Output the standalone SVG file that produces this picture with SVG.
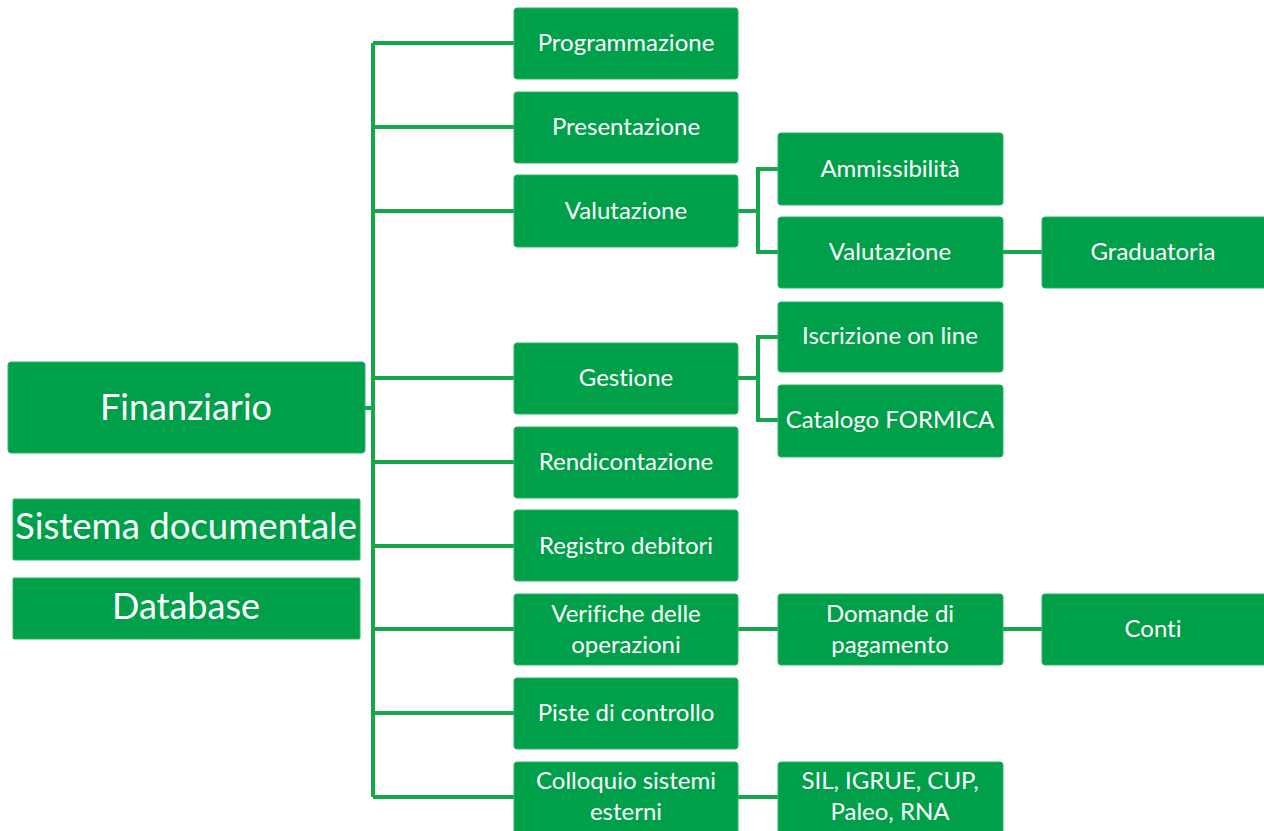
<svg xmlns="http://www.w3.org/2000/svg" width="1264" height="831" viewBox="0 0 1264 831">
  <style>
    .box { fill: #00A04A; stroke: #2DB564; stroke-width: 1; }
    .t { fill: #ffffff; font-family: Lato, "Liberation Sans", sans-serif; font-size: 24px; text-anchor: middle; font-variant-ligatures: none; }
    .big { font-size: 36px; }
    .conn { fill: none; stroke: #14A84A; stroke-width: 4; stroke-linejoin: miter; }
  </style>
  <rect width="1264" height="831" fill="#ffffff"/>

  <!-- connectors -->
  <g id="connectors" class="conn">
    <!-- root to trunk -->
    <path d="M365 408 H373"/>
    <path d="M373 43 V797"/>
    <path d="M373 43 H514 M373 127 H514 M373 211 H514 M373 378 H514 M373 462 H514 M373 546 H514 M373 629 H514 M373 713 H514 M373 797 H514"/>
    <!-- Valutazione branch -->
    <path d="M738 211 H758 M778 169 H758 V252 H778"/>
    <path d="M1003 252 H1042"/>
    <!-- Gestione branch -->
    <path d="M738 378 H758 M778 337 H758 V420 H778"/>
    <!-- Verifiche chain -->
    <path d="M738 629 H778 M1003 629 H1042"/>
    <!-- Colloquio chain -->
    <path d="M738 797 H778"/>
  </g>

  <!-- left column -->
  <g id="n-finanziario">
    <rect class="box" x="8" y="362" width="357" height="91" rx="3"/>
    <text class="t big" x="186" y="420">Finanziario</text>
  </g>
  <g id="n-sistema-documentale">
    <rect class="box" x="13" y="499" width="347" height="61" rx="1"/>
    <text class="t big" x="186" y="539" style="font-size:37px" textLength="342" lengthAdjust="spacingAndGlyphs">Sistema documentale</text>
  </g>
  <g id="n-database">
    <rect class="box" x="13" y="578" width="347" height="61" rx="1"/>
    <text class="t big" x="186" y="619">Database</text>
  </g>

  <!-- middle column -->
  <g id="n-programmazione">
    <rect class="box" x="514" y="8" width="224" height="71" rx="3"/>
    <text class="t" x="626" y="51">Programmazione</text>
  </g>
  <g id="n-presentazione">
    <rect class="box" x="514" y="92" width="224" height="71" rx="3"/>
    <text class="t" x="626" y="135">Presentazione</text>
  </g>
  <g id="n-valutazione">
    <rect class="box" x="514" y="175" width="224" height="72" rx="3"/>
    <text class="t" x="626" y="219">Valutazione</text>
  </g>
  <g id="n-gestione">
    <rect class="box" x="514" y="343" width="224" height="71" rx="3"/>
    <text class="t" x="626" y="386">Gestione</text>
  </g>
  <g id="n-rendicontazione">
    <rect class="box" x="514" y="427" width="224" height="71" rx="3"/>
    <text class="t" x="626" y="470">Rendicontazione</text>
  </g>
  <g id="n-registro-debitori">
    <rect class="box" x="514" y="510" width="224" height="71" rx="3"/>
    <text class="t" x="626" y="554">Registro debitori</text>
  </g>
  <g id="n-verifiche">
    <rect class="box" x="514" y="594" width="224" height="71" rx="3"/>
    <text class="t" x="626" y="622">Verifiche delle</text>
    <text class="t" x="626" y="653">operazioni</text>
  </g>
  <g id="n-piste">
    <rect class="box" x="514" y="678" width="224" height="71" rx="3"/>
    <text class="t" x="626" y="721">Piste di controllo</text>
  </g>
  <g id="n-colloquio">
    <rect class="box" x="514" y="762" width="224" height="75" rx="3"/>
    <text class="t" x="626" y="789">Colloquio sistemi</text>
    <text class="t" x="626" y="820">esterni</text>
  </g>

  <!-- third column -->
  <g id="n-ammissibilita">
    <rect class="box" x="778" y="133" width="225" height="72" rx="3"/>
    <text class="t" x="890" y="177">Ammissibilità</text>
  </g>
  <g id="n-valutazione-2">
    <rect class="box" x="778" y="217" width="225" height="71" rx="3"/>
    <text class="t" x="890" y="260">Valutazione</text>
  </g>
  <g id="n-iscrizione">
    <rect class="box" x="778" y="302" width="225" height="70" rx="3"/>
    <text class="t" x="890" y="344">Iscrizione on line</text>
  </g>
  <g id="n-catalogo">
    <rect class="box" x="778" y="385" width="225" height="72" rx="3"/>
    <text class="t" x="890" y="428">Catalogo FORMICA</text>
  </g>
  <g id="n-domande">
    <rect class="box" x="778" y="594" width="225" height="71" rx="3"/>
    <text class="t" x="890" y="622">Domande di</text>
    <text class="t" x="890" y="653">pagamento</text>
  </g>
  <g id="n-sil">
    <rect class="box" x="778" y="762" width="225" height="75" rx="3"/>
    <text class="t" x="890" y="789">SIL, IGRUE, CUP,</text>
    <text class="t" x="890" y="820">Paleo, RNA</text>
  </g>

  <!-- fourth column -->
  <g id="n-graduatoria">
    <rect class="box" x="1042" y="217" width="226" height="71" rx="3"/>
    <text class="t" x="1153" y="260">Graduatoria</text>
  </g>
  <g id="n-conti">
    <rect class="box" x="1042" y="594" width="226" height="71" rx="3"/>
    <text class="t" x="1153" y="637">Conti</text>
  </g>
</svg>
